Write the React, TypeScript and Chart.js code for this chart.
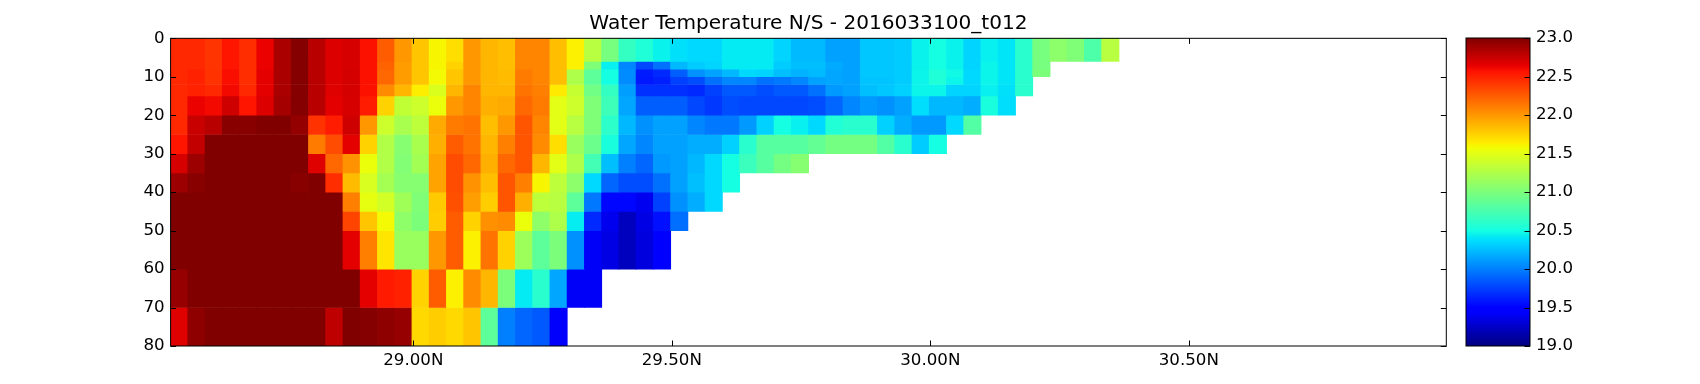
import React, { useEffect, useRef } from "react";
import { Chart, registerables } from "chart.js";

Chart.register(...registerables);

const titleText = "Water Temperature N/S - 2016033100_t012";
const latTicks = [29.0, 29.5, 30.0, 30.5];
const depthTicks = [0, 10, 20, 30, 40, 50, 60, 70, 80];
const colorbarTicks = [19, 19.5, 20, 20.5, 21, 21.5, 22, 22.5, 23];
const tempRange = [19, 23];

const lats = [
  28.5473, 28.5806, 28.614, 28.6473, 28.6807, 28.714, 28.7474, 28.7807, 28.8141, 28.8474, 28.8808,
  28.9141, 28.9475, 28.9808, 29.0142, 29.0475, 29.0809, 29.1142, 29.1476, 29.1809, 29.2143, 29.2476,
  29.281, 29.3143, 29.3477, 29.381, 29.4144, 29.4477, 29.4811, 29.5144, 29.5478, 29.5811, 29.6145,
  29.6478, 29.6812, 29.7145, 29.7479, 29.7812, 29.8146, 29.8479, 29.8813, 29.9146, 29.948, 29.9813,
  30.0147, 30.048, 30.0814, 30.1147, 30.1481, 30.1814, 30.2148, 30.2481, 30.2815, 30.3148, 30.3482,
];

const depthEdges = [0, 6, 8, 10, 12, 15, 20, 25, 30, 35, 40, 45, 50, 60, 70, 80];

const row0 = [22.47,22.47,22.42,22.55,22.45,22.63,22.85,22.98,22.8,22.68,22.7,22.57,22.25,22.0,21.8,21.6,21.7,
  22.0,21.87,21.83,22.08,22.08,21.83,21.62,21.29,20.98,20.65,20.55,20.45,20.38,20.35,20.35,20.42,20.42,
  20.42,20.33,20.23,20.23,20.13,20.13,20.28,20.28,20.3,20.45,20.5,20.45,20.33,20.44,20.4,20.6,20.98,21.08,21.02,20.78,21.29];
const row1 = [22.47,22.47,22.42,22.55,22.45,22.63,22.85,22.98,22.8,22.68,22.7,22.57,22.22,21.98,21.8,21.6,21.75,
  22.0,21.87,21.83,22.08,22.08,21.83,21.62,21.02,20.44,20.03,19.78,19.94,20.22,20.3,20.33,20.42,20.42,
  20.42,20.3,20.25,20.25,20.17,20.13,20.28,20.28,20.3,20.45,20.5,20.45,20.33,20.46,20.4,20.6,20.98];
const row2 = [22.47,22.5,22.43,22.58,22.45,22.65,22.85,22.98,22.8,22.68,22.71,22.57,22.2,21.98,21.8,21.58,21.8,
  22.0,21.87,21.85,22.12,22.08,21.83,21.24,20.85,20.5,20.05,19.6,19.66,19.87,20.07,20.14,20.22,20.35,
  20.33,20.25,20.2,20.23,20.15,20.13,20.28,20.28,20.3,20.46,20.55,20.48,20.35,20.46,20.4,20.6,21.0];
const row3 = [22.47,22.5,22.43,22.58,22.45,22.65,22.85,22.98,22.8,22.68,22.71,22.57,22.2,21.98,21.8,21.58,21.8,
  22.0,21.87,21.85,22.12,22.08,21.83,21.24,20.85,20.5,20.05,19.59,19.62,19.75,19.8,19.94,20.03,20.03,
  19.94,19.97,20.03,20.13,20.15,20.13,20.27,20.27,20.3,20.46,20.55,20.46,20.35,20.46,20.4,20.6];
const row4 = [22.47,22.5,22.47,22.6,22.47,22.65,22.85,22.98,22.8,22.67,22.71,22.57,22.05,21.87,21.63,21.46,21.87,
  22.08,21.87,21.87,22.15,22.1,21.65,21.36,20.95,20.65,20.12,19.69,19.69,19.69,19.66,19.75,19.85,19.85,
  19.8,19.85,19.85,19.94,20.1,20.13,20.25,20.28,20.32,20.46,20.46,20.33,20.33,20.44,20.38,20.6];
const row5 = [22.47,22.63,22.6,22.73,22.55,22.68,22.87,22.98,22.8,22.65,22.7,22.52,21.75,21.34,21.39,21.55,22.0,
  22.08,21.9,21.92,22.2,22.12,21.5,21.39,21.02,20.7,20.15,19.87,19.87,19.87,19.78,19.72,19.8,19.78,
  19.78,19.78,19.78,19.8,19.9,20.03,20.1,20.07,20.13,20.37,20.22,20.22,20.18,20.52,20.37];
const row6 = [22.47,22.75,22.8,22.97,22.97,23,23,22.93,22.43,22.52,22.73,22.0,21.39,21.22,21.32,21.92,22.12,
  22.15,21.83,22.0,22.28,22.08,21.5,21.29,21.02,20.62,20.22,20.07,20.13,20.13,20.03,19.97,19.97,20.1,
  20.32,20.5,20.44,20.35,20.56,20.6,20.6,20.32,20.18,20.1,20.1,20.35,20.8];
const row7 = [22.55,22.77,23,23,23,23,23,23,22.12,22.32,22.65,21.75,21.26,21.05,21.22,21.9,22.25,
  22.15,21.87,22.1,22.28,22.05,21.7,21.14,20.92,20.52,20.15,20.03,20.13,20.13,20.18,20.18,20.32,20.6,
  20.82,20.82,20.82,20.88,20.97,20.97,20.97,20.8,20.6,20.3,20.5];
const row8 = [22.7,22.9,23,23,23,23,23,23,22.67,22.2,22.02,21.55,21.26,21.03,21.19,21.95,22.32,
  22.2,21.9,22.2,22.28,21.87,21.5,21.24,20.72,20.25,20.0,19.9,20.1,20.13,20.22,20.35,20.5,20.68,
  20.82,20.97,21.05];
const row9 = [22.9,22.97,23,23,23,23,23,22.97,23,22.45,21.85,21.45,21.2,21.05,21.05,21.95,22.32,
  22.02,21.83,22.28,22.1,21.6,21.32,21.08,20.35,19.9,19.8,19.8,19.94,20.13,20.25,20.35,20.5];
const row10 = [23,23,23,23,23,23,23,23,23,23,22.1,21.52,21.42,21.18,21.02,21.78,22.3,
  21.97,21.77,22.28,21.9,21.32,21.29,20.85,19.97,19.52,19.52,19.39,19.75,20.07,20.18,20.35];
const row11 = [23,23,23,23,23,23,23,23,23,23,22.35,21.8,21.58,21.09,21.0,21.77,22.25,
  21.75,22.03,22.05,21.55,21.09,21.24,20.43,19.66,19.38,19.22,19.35,19.56,19.93];
const row12 = [23,23,23,23,23,23,23,23,23,23,22.65,22.1,21.67,21.14,21.14,22.0,22.25,
  21.62,22.15,21.75,21.16,20.85,21.0,20.07,19.42,19.35,19.22,19.33,19.47];
const row13 = [22.92,23,23,23,23,23,23,23,23,23,23,22.65,22.53,22.5,21.75,22.25,21.62,
  22.05,21.87,21.0,20.42,20.6,20.15,19.42,19.42];
const row14 = [22.67,22.95,23,23,23,23,23,23,23,22.78,23,22.98,22.95,22.92,21.72,21.77,21.72,
  21.8,20.85,20.0,19.9,19.85,19.43];

const rows = [row0,row1,row2,row3,row4,row5,row6,row7,row8,row9,row10,row11,row12,row13,row14];

const jetR = [[0,0],[0.35,0],[0.66,1],[0.89,1],[1,0.5]];
const jetG = [[0,0],[0.125,0],[0.375,1],[0.64,1],[0.91,0],[1,0]];
const jetB = [[0,0.5],[0.11,1],[0.34,1],[0.65,0],[1,0]];
const jetStops = [0,0.11,0.125,0.34,0.35,0.375,0.64,0.65,0.66,0.89,0.91,1];

function lerp(tbl: number[][], t: number) {
  for (let i = 1; i < tbl.length; i++) {
    if (t <= tbl[i][0]) {
      const [a, va] = tbl[i - 1];
      const [b, vb] = tbl[i];
      return va + ((t - a) / (b - a)) * (vb - va);
    }
  }
  return tbl[tbl.length - 1][1];
}
function jet(t: number) {
  const c = Math.max(0, Math.min(1, t));
  const f = (x: number) => Math.round(x * 255);
  return `rgb(${f(lerp(jetR, c))},${f(lerp(jetG, c))},${f(lerp(jetB, c))})`;
}
function tempColor(v: number) {
  return jet((v - tempRange[0]) / (tempRange[1] - tempRange[0]));
}

const FONT = "'DejaVu Sans', sans-serif";
const TICK_LEN = 5.5;

const framePlugin = {
  id: "frame",
  afterDatasetsDraw(chart: any, _a: any, opts: any) {
    const { ctx, chartArea: a, scales } = chart;
    ctx.save();
    ctx.strokeStyle = "#000";
    ctx.lineWidth = 1;
    ctx.beginPath();
    if (opts.all) {
      for (const t of scales.x.ticks) {
        const p = Math.round(scales.x.getPixelForValue(t.value)) + 0.5;
        ctx.moveTo(p, a.top); ctx.lineTo(p, a.top + TICK_LEN);
        ctx.moveTo(p, a.bottom); ctx.lineTo(p, a.bottom - TICK_LEN);
      }
    }
    for (const t of scales.y.ticks) {
      const p = Math.round(scales.y.getPixelForValue(t.value)) + 0.5;
      ctx.moveTo(a.right, p); ctx.lineTo(a.right - TICK_LEN, p);
      if (opts.all) { ctx.moveTo(a.left, p); ctx.lineTo(a.left + TICK_LEN, p); }
    }
    ctx.stroke();
    ctx.strokeRect(a.left, a.top, a.right - a.left, a.bottom - a.top);
    ctx.restore();
  },
};

export default function App() {
  const mainRef = useRef<HTMLCanvasElement>(null);
  const barRef = useRef<HTMLCanvasElement>(null);

  useEffect(() => {
    const datasets = rows.map((vals, r) => {
      const cells = vals.map((v, i) => ({ x: lats[i], y: [depthEdges[r], depthEdges[r + 1]], v }));
      return {
        data: cells,
        backgroundColor: cells.map((c) => tempColor(c.v)),
        borderWidth: 0,
        barThickness: 17.4,
        grouped: false,
      };
    });
    const main = new Chart(mainRef.current as any, {
      type: "bar",
      data: { datasets: datasets as any },
      plugins: [framePlugin as any],
      options: {
        animation: false,
        responsive: false,
        layout: { padding: { top: 12, right: 253.7, left: 0, bottom: 0 } },
        plugins: {
          legend: { display: false },
          tooltip: { enabled: false },
          title: {
            display: true,
            text: titleText,
            fullSize: false,
            color: "#000",
            font: { family: FONT, size: 20.1, weight: "normal" },
            padding: { top: 0, bottom: 2.2 },
          },
          frame: { all: true },
        } as any,
        scales: {
          x: {
            type: "linear",
            offset: false,
            min: 28.5306,
            max: 30.998,
            grid: { display: false, offset: false, drawTicks: false },
            border: { display: false },
            afterBuildTicks: (s: any) => { s.ticks = latTicks.map((value) => ({ value })); },
            afterFit: (s: any) => { s.height = 38; },
            ticks: {
              autoSkip: false,
              maxRotation: 0,
              padding: 5,
              color: "#000",
              font: { family: FONT, size: 16.67 },
              callback: (v: any) => Number(v).toFixed(2) + "N",
            },
          },
          y: {
            type: "linear",
            reverse: true,
            min: 0,
            max: 80,
            grid: { display: false, drawTicks: false },
            border: { display: false },
            afterBuildTicks: (s: any) => { s.ticks = depthTicks.map((value) => ({ value })); },
            afterFit: (s: any) => { s.width = 170.6; },
            ticks: {
              autoSkip: false,
              padding: 6,
              color: "#000",
              font: { family: FONT, size: 16.67 },
              callback: (v: any) => String(v),
            },
          },
        },
      },
    });

    const bar = new Chart(barRef.current as any, {
      type: "bar",
      data: {
        labels: [""],
        datasets: [{
          data: [[tempRange[0], tempRange[1]]] as any,
          borderWidth: 0,
          backgroundColor: (c: any) => {
            const area = c.chart.chartArea;
            if (!area) return "#000";
            const g = c.chart.ctx.createLinearGradient(0, area.bottom, 0, area.top);
            for (const t of jetStops) g.addColorStop(t, jet(t));
            return g;
          },
          barPercentage: 1,
          categoryPercentage: 1,
        }],
      },
      plugins: [framePlugin as any],
      options: {
        animation: false,
        responsive: false,
        layout: { padding: { top: 38, left: 26, right: 0, bottom: 38 } },
        plugins: {
          legend: { display: false },
          tooltip: { enabled: false },
          frame: { all: false },
        } as any,
        scales: {
          x: { display: false },
          y: {
            type: "linear",
            position: "right",
            min: tempRange[0],
            max: tempRange[1],
            grid: { display: false, drawTicks: false },
            border: { display: false },
            afterBuildTicks: (s: any) => { s.ticks = colorbarTicks.map((value) => ({ value })); },
            afterFit: (s: any) => { s.width = 170; },
            ticks: {
              autoSkip: false,
              padding: 6,
              color: "#000",
              font: { family: FONT, size: 16.67 },
              callback: (v: any) => Number(v).toFixed(1),
            },
          },
        },
      },
    });

    return () => { main.destroy(); bar.destroy(); };
  }, []);

  return (
    <div style={{ position: "absolute", left: 0, top: 0, width: 1700, height: 384, background: "#fff", overflow: "hidden" }}>
      <canvas ref={mainRef} width={1700} height={384} style={{ position: "absolute", left: 0, top: 0 }} />
      <canvas ref={barRef} width={260} height={384} style={{ position: "absolute", left: 1440, top: 0 }} />
    </div>
  );
}
